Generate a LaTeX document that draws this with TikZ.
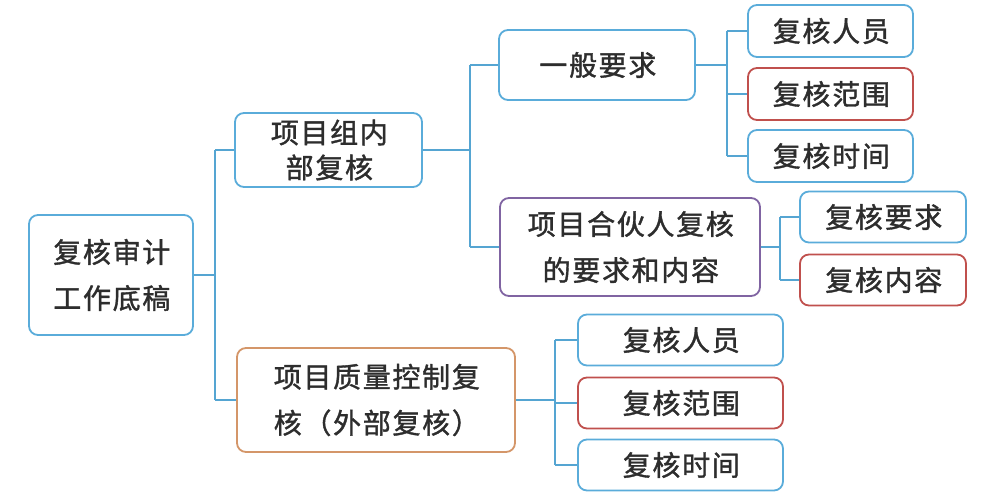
\documentclass[tikz,border=0pt]{standalone}
\usepackage{fontspec}
\setmainfont{Noto Sans CJK SC}[FakeBold=1.3, LetterSpace=6]
\definecolor{bblue}{RGB}{90,172,218}
\definecolor{lblue}{RGB}{85,165,210}
\definecolor{bred}{RGB}{192,80,77}
\definecolor{bpurple}{RGB}{128,100,162}
\definecolor{borange}{RGB}{212,150,105}
\definecolor{txt}{RGB}{45,45,45}
\tikzset{
  box/.style={draw=bblue, line width=1.8pt, rounded corners=9pt, fill=white,
    text=txt, align=center, inner sep=1pt,
    font=\fontsize{28}{46}\selectfont},
  redbox/.style={box, draw=bred},
  purplebox/.style={box, draw=bpurple},
  orangebox/.style={box, draw=borange},
  conn/.style={draw=lblue, line width=1.8pt}
}
\begin{document}
\begin{tikzpicture}[x=1pt,y=-1pt]
\useasboundingbox (0,0) rectangle (986,498);
% nodes
\node[box, minimum width=164pt, minimum height=120pt] (root) at (111,275) {\hspace{1.7pt}复核审计\\\hspace{1.7pt}工作底稿};
\node[box, minimum width=187pt, minimum height=74pt, font=\fontsize{28}{35}\selectfont] (n1) at (328.5,150) {\hspace{1.7pt}项目组内\\\hspace{1.7pt}部复核};
\node[orangebox, minimum width=278pt, minimum height=104pt] (n2) at (376,400) {\hspace{1.7pt}项目质量控制复\\\hspace{1.7pt}核（外部复核）};
\node[box, minimum width=196pt, minimum height=70pt] (a) at (597,65) {\hspace{1.7pt}一般要求};
\node[purplebox, minimum width=260pt, minimum height=98pt] (b) at (630,247) {\hspace{1.7pt}项目合伙人复核\\\hspace{1.7pt}的要求和内容};
\node[box, minimum width=165pt, minimum height=52pt] (a1) at (830.5,31) {\hspace{1.7pt}复核人员};
\node[redbox, minimum width=165pt, minimum height=52pt] (a2) at (830.5,94) {\hspace{1.7pt}复核范围};
\node[box, minimum width=165pt, minimum height=52pt] (a3) at (830.5,156) {\hspace{1.7pt}复核时间};
\node[box, minimum width=166pt, minimum height=51pt] (b1) at (883,217) {\hspace{1.7pt}复核要求};
\node[redbox, minimum width=166pt, minimum height=51pt] (b2) at (883,280) {\hspace{1.7pt}复核内容};
\node[box, minimum width=205pt, minimum height=51pt] (c1) at (680.5,340) {\hspace{1.7pt}复核人员};
\node[redbox, minimum width=205pt, minimum height=51pt] (c2) at (680.5,403) {\hspace{1.7pt}复核范围};
\node[box, minimum width=205pt, minimum height=51pt] (c3) at (680.5,465) {\hspace{1.7pt}复核时间};
% bus coordinates
\coordinate (rb) at (215,275);
\coordinate (nb) at (470,150);
\coordinate (ab) at (727,65);
\coordinate (bb) at (780,247);
\coordinate (cb) at (555,400);
% connectors
\draw[conn] (root.east) -- (rb);
\draw[conn] (rb |- n1.west) -- (rb |- n2.west);
\draw[conn] (rb |- n1.west) -- (n1.west);
\draw[conn] (rb |- n2.west) -- (n2.west);
\draw[conn] (n1.east) -- (nb);
\draw[conn] (nb |- a.west) -- (nb |- b.west);
\draw[conn] (nb |- a.west) -- (a.west);
\draw[conn] (nb |- b.west) -- (b.west);
\draw[conn] (a.east) -- (ab);
\draw[conn] (ab |- a1.west) -- (ab |- a3.west);
\draw[conn] (ab |- a1.west) -- (a1.west);
\draw[conn] (ab |- a2.west) -- (a2.west);
\draw[conn] (ab |- a3.west) -- (a3.west);
\draw[conn] (b.east) -- (bb);
\draw[conn] (bb |- b1.west) -- (bb |- b2.west);
\draw[conn] (bb |- b1.west) -- (b1.west);
\draw[conn] (bb |- b2.west) -- (b2.west);
\draw[conn] (n2.east) -- (cb);
\draw[conn] (cb |- c1.west) -- (cb |- c3.west);
\draw[conn] (cb |- c1.west) -- (c1.west);
\draw[conn] (cb |- c2.west) -- (c2.west);
\draw[conn] (cb |- c3.west) -- (c3.west);
\end{tikzpicture}
\end{document}
